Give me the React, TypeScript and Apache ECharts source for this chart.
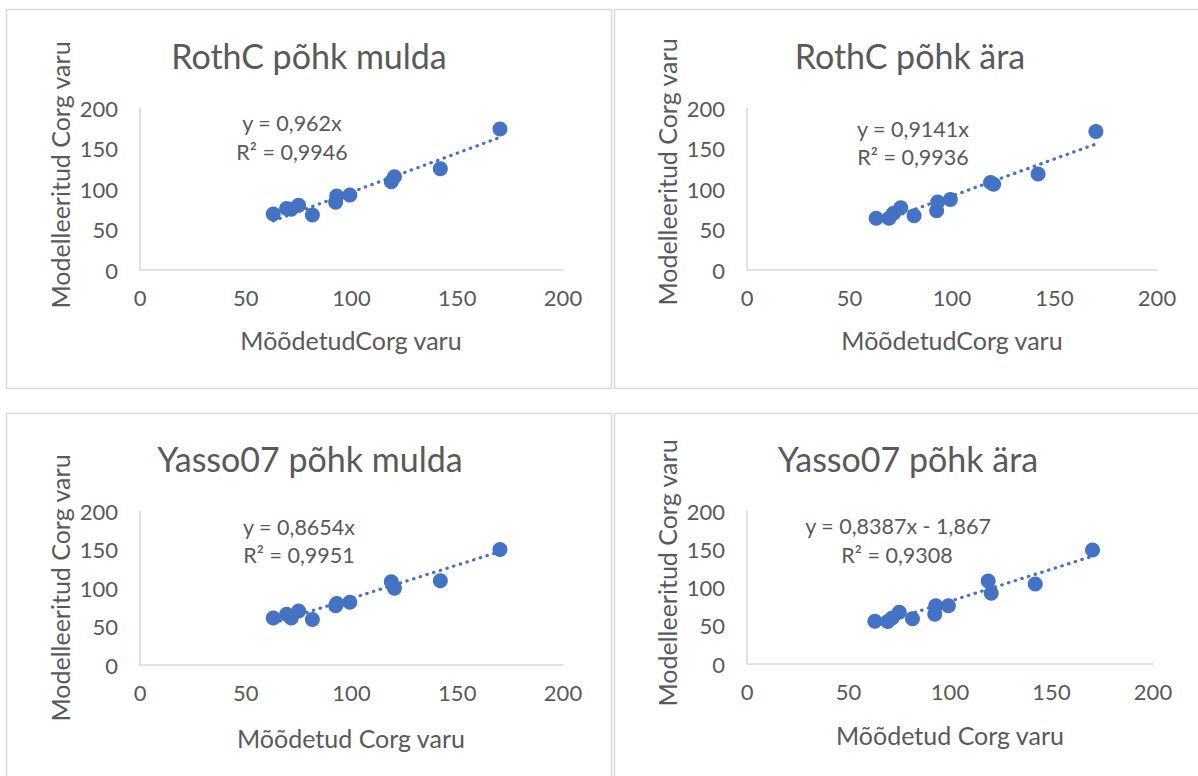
import React, { useEffect, useRef } from 'react';
import * as echarts from 'echarts';

// Measured Corg stock (x), shared by all four panels
const measured = [63, 69.3, 71.5, 75, 81.5, 92.5, 93, 99.2, 118.8, 120.3, 142, 170.2];
// Modelled Corg stock (y) per panel
const rothcMulda = [69, 76, 75, 80, 68, 83.5, 91.5, 92.5, 109, 115, 125, 174];
const rothcAra = [64, 64, 70, 77, 67, 73, 84, 87, 108, 106, 118.5, 171];
const yassoMulda = [61, 66, 61, 70, 59, 77, 80, 81.5, 108, 99.6, 109.5, 150];
const yassoAra = [56, 55.5, 60, 67.5, 59, 65, 76, 76, 108.5, 92.5, 104.5, 149];

const titles = ['RothC põhk mulda', 'RothC põhk ära', 'Yasso07 põhk mulda', 'Yasso07 põhk ära'];
const xNames = ['MõõdetudCorg varu', 'MõõdetudCorg varu', 'Mõõdetud Corg varu', 'Mõõdetud Corg varu'];
const yName = 'Modelleeritud Corg varu';
const slopes = [0.962, 0.9141, 0.8654, 0.8387];
const intercepts = [0, 0, 0, -1.867];
const eqTexts = ['y = 0,962x', 'y = 0,9141x', 'y = 0,8654x', 'y = 0,8387x - 1,867'];
const r2Texts = ['R² = 0,9946', 'R² = 0,9936', 'R² = 0,9951', 'R² = 0,9308'];
const ticks = [0, 50, 100, 150, 200];

const seriesValues = [rothcMulda, rothcAra, yassoMulda, yassoAra];

// layout
const grids = [
  { left: 140, top: 108, width: 423, height: 162 },
  { left: 747, top: 108, width: 410, height: 162 },
  { left: 140, top: 511, width: 423, height: 154 },
  { left: 747, top: 511, width: 406, height: 153 },
];
const frames = [
  { x: 6.5, y: 9.5, width: 605, height: 379 },
  { x: 614.5, y: 9.5, width: 600, height: 379 },
  { x: 6.5, y: 413.5, width: 605, height: 400 },
  { x: 614.5, y: 413.5, width: 600, height: 400 },
];
const titlePos = [[309, 55], [910, 55], [310, 458], [908, 458]];
const yNamePos = [[60, 175], [667, 172], [60, 588], [667, 573]];
const xNamePos = [[351, 340], [952, 340], [351, 738], [950, 735]];
const eqPos = [[292, 123], [913, 129], [299, 527], [898, 526]];
const r2Pos = [[292, 152], [913, 157], [299, 555], [897, 555]];

const BLUE = '#4472C4';
const TEXT = '#595959';
const AXIS = '#D9D9D9';
const FONT = 'Lato, "Open Sans", sans-serif';

export default function App() {
  const ref = useRef<HTMLDivElement>(null);
  useEffect(() => {
    if (!ref.current) return;
    const chart = echarts.init(ref.current, undefined, { renderer: 'svg' });
    const xMin = Math.min(...measured);
    const xMax = Math.max(...measured);
    const graphic: any[] = [];
    frames.forEach((f) => {
      graphic.push({
        type: 'rect',
        shape: { ...f },
        style: { fill: '#fff', stroke: AXIS, lineWidth: 1.5 },
        z: -10,
      });
    });
    titles.forEach((t, i) => {
      graphic.push({
        type: 'text', x: titlePos[i][0], y: titlePos[i][1],
        style: { text: t, fill: TEXT, font: `34px ${FONT}`, textAlign: 'center', textVerticalAlign: 'middle' },
      });
      graphic.push({
        type: 'text', x: yNamePos[i][0], y: yNamePos[i][1], rotation: Math.PI / 2,
        style: { text: yName, fill: TEXT, font: `25px ${FONT}`, textAlign: 'center', textVerticalAlign: 'middle' },
      });
      graphic.push({
        type: 'text', x: xNamePos[i][0], y: xNamePos[i][1],
        style: { text: xNames[i], fill: TEXT, font: `25px ${FONT}`, textAlign: 'center', textVerticalAlign: 'middle' },
      });
      graphic.push({
        type: 'text', x: eqPos[i][0], y: eqPos[i][1],
        style: { text: eqTexts[i], fill: TEXT, font: `21.5px ${FONT}`, textAlign: 'center', textVerticalAlign: 'middle' },
      });
      graphic.push({
        type: 'text', x: r2Pos[i][0], y: r2Pos[i][1],
        style: { text: r2Texts[i], fill: TEXT, font: `21.5px ${FONT}`, textAlign: 'center', textVerticalAlign: 'middle' },
      });
    });

    const axisCommon = {
      type: 'value',
      min: ticks[0],
      max: ticks[ticks.length - 1],
      interval: ticks[1] - ticks[0],
      splitLine: { show: false },
      axisTick: { show: false },
      axisLine: { show: true, lineStyle: { color: AXIS, width: 1.5 } },
    };

    const series: any[] = [];
    seriesValues.forEach((vals, i) => {
      series.push({
        type: 'line',
        xAxisIndex: i, yAxisIndex: i,
        data: [
          [xMin, slopes[i] * xMin + intercepts[i]],
          [xMax, slopes[i] * xMax + intercepts[i]],
        ],
        showSymbol: false,
        symbol: 'none',
        lineStyle: { color: BLUE, width: 3.2, type: [0.5, 6.5], cap: 'round' },
        z: 3,
      });
      series.push({
        type: 'scatter',
        xAxisIndex: i, yAxisIndex: i,
        data: measured.map((x, k) => [x, vals[k]]),
        symbol: 'circle',
        symbolSize: 15,
        itemStyle: { color: BLUE, opacity: 1 },
        z: 2,
      });
    });

    chart.setOption({
      animation: false,
      backgroundColor: '#fff',
      graphic,
      grid: grids.map((g) => ({ ...g, containLabel: false })),
      xAxis: grids.map((_, i) => ({
        ...axisCommon,
        gridIndex: i,
        axisLabel: { color: TEXT, fontSize: 22, fontFamily: FONT, margin: 16 },
      })),
      yAxis: grids.map((_, i) => ({
        ...axisCommon,
        gridIndex: i,
        axisLabel: { color: TEXT, fontSize: 22, fontFamily: FONT, margin: 22 },
      })),
      series,
    });
    return () => chart.dispose();
  }, []);
  return (
    <div
      ref={ref}
      style={{ position: 'fixed', left: 0, top: 0, width: 1198, height: 776 }}
    />
  );
}
